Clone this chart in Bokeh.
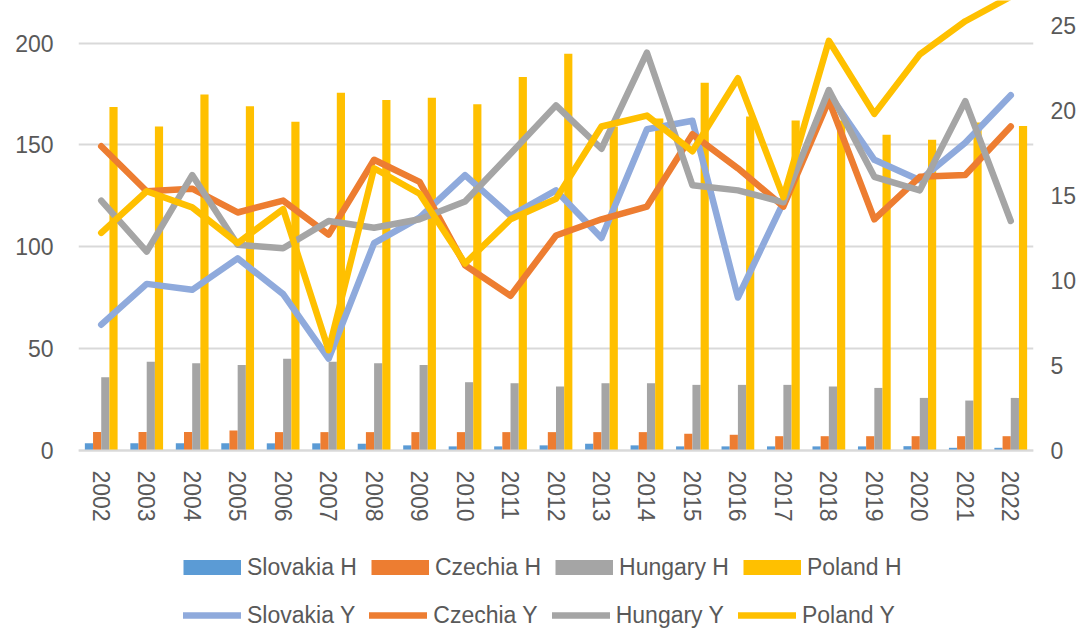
from bokeh.plotting import figure
from bokeh.models import (FactorRange, Range1d, LinearAxis, FixedTicker, Legend, LegendItem,
                          ColumnDataSource)
from bokeh.transform import dodge
from bokeh.embed import file_html
from bokeh.resources import INLINE

years = [str(y) for y in range(2002, 2023)]

slovakia_h = [3.5, 3.5, 3.5, 3.5, 3.5, 3.5, 3.3, 2.5, 2.0, 2.0, 2.5, 3.3, 2.5, 2.0, 2.0, 2.0, 2.0, 2.0, 2.1, 1.3, 1.3]
czechia_h = [9.0, 9.0, 9.0, 9.8, 9.0, 9.0, 9.0, 9.0, 9.0, 9.0, 9.0, 9.0, 9.0, 8.2, 7.7, 7.0, 7.0, 7.0, 7.0, 7.0, 7.0]
hungary_h = [36.0, 43.6, 42.8, 42.0, 45.0, 43.6, 42.8, 42.0, 33.5, 33.0, 31.4, 33.0, 33.0, 32.2, 32.2, 32.2, 31.4, 30.7, 25.8, 24.5, 25.8]
poland_h = [168.6, 159.0, 174.8, 169.0, 161.4, 175.6, 172.0, 173.2, 170.0, 183.3, 194.8, 159.0, 163.0, 180.5, 164.0, 162.0, 162.0, 155.0, 152.5, 161.0, 159.3]

slovakia_y = [7.4, 9.8, 9.45, 11.3, 9.2, 5.4, 12.2, 13.7, 16.2, 13.8, 15.3, 12.5, 18.9, 19.4, 9.0, 14.6, 21.0, 17.1, 15.9, 18.1, 20.9]
czechia_y = [17.9, 15.25, 15.4, 14.0, 14.7, 12.7, 17.1, 15.8, 10.9, 9.1, 12.65, 13.6, 14.35, 18.6, 16.6, 14.35, 20.6, 13.6, 16.1, 16.2, 19.06]
hungary_y = [14.7, 11.7, 16.2, 12.1, 11.9, 13.5, 13.1, 13.6, 14.65, 17.45, 20.3, 17.75, 23.4, 15.6, 15.3, 14.6, 21.2, 16.1, 15.3, 20.55, 13.5]
poland_y = [12.8, 15.25, 14.3, 12.2, 14.2, 5.9, 16.6, 15.1, 11.0, 13.6, 14.8, 19.06, 19.7, 17.6, 21.9, 14.9, 24.1, 19.8, 23.3, 25.25, 26.7]

left_ticks = [0, 50, 100, 150, 200]
right_ticks = [0, 5, 10, 15, 20, 25]

FONT = "Liberation Sans"
TXT = "#595959"
GRID = "#D9D9D9"

src = ColumnDataSource(dict(year=years, sh=slovakia_h, ch=czechia_h, hh=hungary_h, ph=poland_h,
                            sy=slovakia_y, cy=czechia_y, hy=hungary_y, py=poland_y))

# frame covers the whole canvas height; value 0 sits 450px from the top
p = figure(x_range=FactorRange(*years, range_padding=0), y_range=Range1d(-87.9, 220.9),
           width=1089, height=629, output_backend="svg", toolbar_location=None,
           min_border_left=78, min_border_right=56, min_border_top=0, min_border_bottom=0)
p.extra_y_ranges = {"right": Range1d(-10.53, 26.47)}
p.outline_line_color = None
p.background_fill_color = "white"
p.border_fill_color = "white"

# x axis fixed at value 0
p.xaxis.fixed_location = 0
p.xaxis.axis_line_color = GRID
p.xaxis.axis_line_width = 2
p.xaxis.major_tick_line_color = None
p.xaxis.minor_tick_line_color = None
p.xaxis.major_tick_out = 0
p.xaxis.major_tick_in = 0
p.xaxis.major_label_orientation = "vertical"
p.xaxis.major_label_standoff = 20
p.xaxis.major_label_text_font = FONT
p.xaxis.major_label_text_font_size = "23px"
p.xaxis.major_label_text_color = TXT

p.yaxis.ticker = FixedTicker(ticks=left_ticks)
p.yaxis.axis_line_color = None
p.yaxis.major_tick_line_color = None
p.yaxis.minor_tick_line_color = None
p.yaxis.major_tick_out = 0
p.yaxis.major_label_standoff = 25
p.yaxis.major_label_text_font = FONT
p.yaxis.major_label_text_font_size = "23px"
p.yaxis.major_label_text_color = TXT

ra = LinearAxis(y_range_name="right", ticker=FixedTicker(ticks=right_ticks))
ra.axis_line_color = None
ra.major_tick_line_color = None
ra.minor_tick_line_color = None
ra.major_tick_out = 0
ra.major_label_standoff = 17
ra.major_label_text_font = FONT
ra.major_label_text_font_size = "23px"
ra.major_label_text_color = TXT
p.add_layout(ra, "right")

p.xgrid.grid_line_color = None
p.ygrid.grid_line_color = GRID
p.ygrid.grid_line_width = 2
p.ygrid.ticker = FixedTicker(ticks=left_ticks)

bw = 0.18
colors_h = ["#5B9BD5", "#ED7D31", "#A5A5A5", "#FFC000"]
colors_y = ["#8FAADC", "#ED7D31", "#A5A5A5", "#FFC000"]
p.vbar(x=dodge("year", -0.27, range=p.x_range), top="sh", width=bw, source=src, color=colors_h[0], line_color=None)
p.vbar(x=dodge("year", -0.09, range=p.x_range), top="ch", width=bw, source=src, color=colors_h[1], line_color=None)
p.vbar(x=dodge("year", 0.09, range=p.x_range), top="hh", width=bw, source=src, color=colors_h[2], line_color=None)
p.vbar(x=dodge("year", 0.27, range=p.x_range), top="ph", width=bw, source=src, color=colors_h[3], line_color=None)

lw = 6.5
l1 = p.line(x="year", y="sy", source=src, y_range_name="right", color=colors_y[0], line_width=lw, line_join="round", line_cap="round")
l2 = p.line(x="year", y="cy", source=src, y_range_name="right", color=colors_y[1], line_width=lw, line_join="round", line_cap="round")
l3 = p.line(x="year", y="hy", source=src, y_range_name="right", color=colors_y[2], line_width=lw, line_join="round", line_cap="round")
l4 = p.line(x="year", y="py", source=src, y_range_name="right", color=colors_y[3], line_width=lw, line_join="round", line_cap="round")

# legend swatches for the bar series: off-screen proxy lines drawn thick with butt caps
proxy_x = [years[0], years[1]]
proxy_y = [-5000, -5000]
proxies = [p.line(x=proxy_x, y=proxy_y, color=c, line_width=15, line_cap="butt") for c in colors_h]


def make_legend(items, loc):
    lg = Legend(items=items, orientation="horizontal", location=loc)
    lg.border_line_color = None
    lg.background_fill_alpha = 0
    lg.padding = 0
    lg.margin = 0
    lg.spacing = 14
    lg.label_standoff = 6
    lg.glyph_width = 58
    lg.glyph_height = 28
    lg.label_height = 28
    lg.label_text_font = FONT
    lg.label_text_font_size = "23px"
    lg.label_text_color = TXT
    lg.label_text_baseline = "middle"
    return lg


leg1 = make_legend([LegendItem(label="Slovakia H", renderers=[proxies[0]]),
                    LegendItem(label="Czechia H", renderers=[proxies[1]]),
                    LegendItem(label="Hungary H", renderers=[proxies[2]]),
                    LegendItem(label="Poland H", renderers=[proxies[3]])], (105, 48))
leg2 = make_legend([LegendItem(label="Slovakia Y", renderers=[l1]),
                    LegendItem(label="Czechia Y", renderers=[l2]),
                    LegendItem(label="Hungary Y", renderers=[l3]),
                    LegendItem(label="Poland Y", renderers=[l4])], (105, 0))
p.add_layout(leg1)
p.add_layout(leg2)

open("out.html", "w").write(file_html(p, INLINE))
